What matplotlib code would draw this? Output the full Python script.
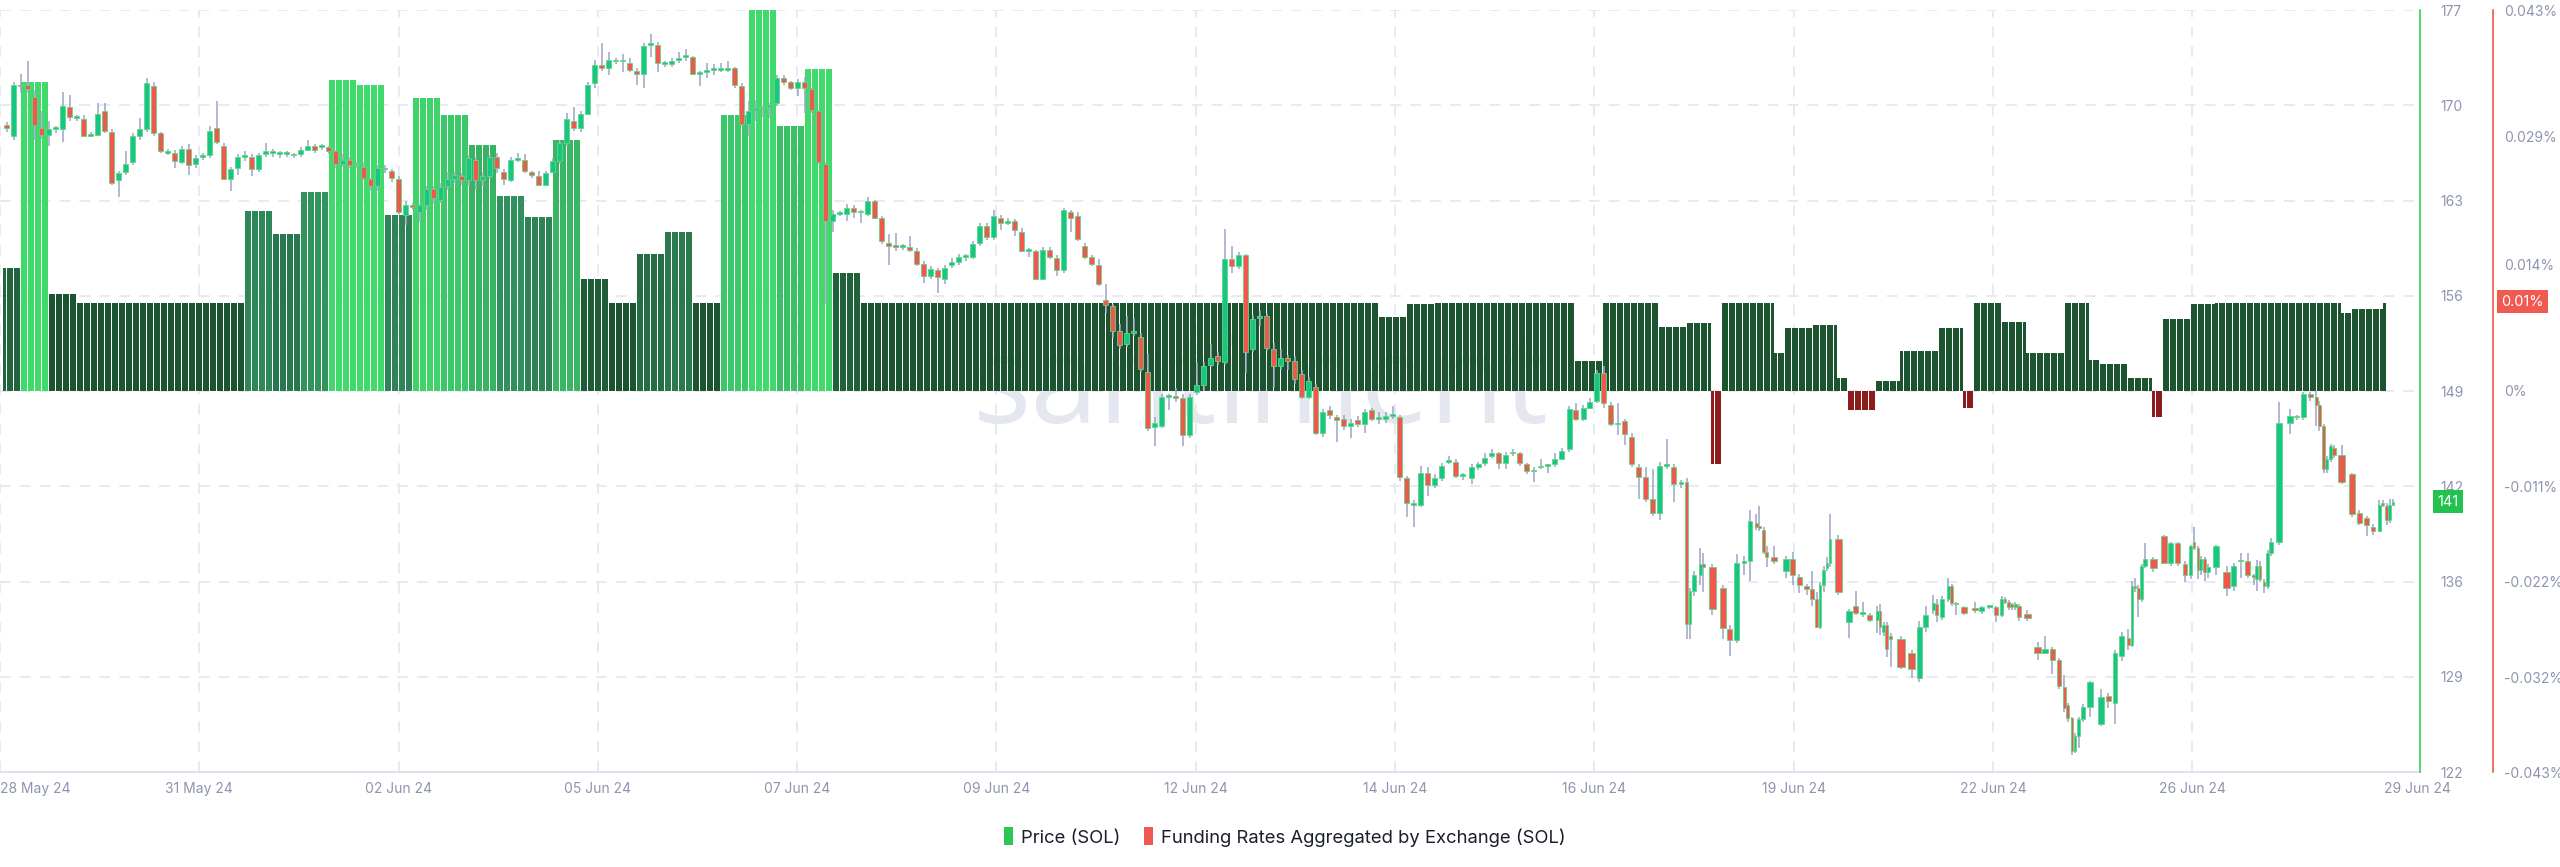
import numpy as np
import matplotlib
matplotlib.use("Agg")
import matplotlib.pyplot as plt
from matplotlib.patches import Patch

plt.rcParams['font.family'] = ['Inter', 'DejaVu Sans']

# ---------------- data ----------------
date_labels = ['28 May 24', '31 May 24', '02 Jun 24', '05 Jun 24', '07 Jun 24', '09 Jun 24',
               '12 Jun 24', '14 Jun 24', '16 Jun 24', '19 Jun 24', '22 Jun 24', '26 Jun 24', '29 Jun 24']

price_tick_labels = ['122', '129', '136', '142', '149', '156', '163', '170', '177']
funding_ticks = [0.043, 0.0287, 0.0143, 0.0, -0.0108, -0.0215, -0.0323, -0.043]
funding_tick_labels = ['0.043%', '0.029%', '0.014%', '0%', '-0.011%', '-0.022%', '-0.032%', '-0.043%']

# funding rate (%) as runs of hourly values
funding_rate = [0.0139, 0.0349, 0.0109, 0.0099, 0.0203, 0.0177, 0.0225, 0.0351, 0.0345, 0.0199,
                0.0331, 0.0311, 0.0278, 0.0220, 0.0196, 0.0283, 0.0126, 0.0099, 0.0155, 0.0179,
                0.0099, 0.0312, 0.0430, 0.0299, 0.0363, 0.0133, 0.0099, 0.0083, 0.0098, 0.0099,
                0.0034, 0.0099, 0.0072, 0.0077, -0.0082, 0.0099, 0.0043, 0.0071, 0.0074, 0.0015,
                -0.0021, 0.0011, 0.0045, 0.0071, -0.0019, 0.0099, 0.0078, 0.0043, 0.0099, 0.0035,
                0.0031, 0.0015, -0.0029, 0.0081, 0.0098, 0.0099, 0.0088, 0.0092, 0.0099]
funding_run_hours = [5, 8, 8, 48, 8, 8, 8, 8, 8, 8,
                     8, 8, 8, 8, 8, 8, 8, 8, 8, 8,
                     8, 8, 8, 8, 8, 8, 148, 8, 8, 40,
                     8, 16, 8, 7, 3, 15, 3, 8, 7, 3,
                     8, 7, 11, 7, 3, 8, 7, 11, 7, 3,
                     8, 7, 3, 8, 7, 36, 3, 9, 1]

# SOL candles (2h regular part, then irregular timestamps in hours)
late_candle_hours = [
    419.6, 421.5, 423.4, 425.4, 427.3, 429.3, 431.3, 433.4, 435.3, 437.4, 439.4, 441.4, 443.4, 445.4,
    447.5, 449.4, 451.5, 453.4, 455.4, 457.4, 459.4, 461.4, 463.4, 465.4, 467.4, 469.4, 471.4, 473.4,
    475.3, 477.4, 479.4, 481.0, 482.0, 483.1, 484.9, 485.8, 488.4, 491.4, 493.3, 495.3, 497.4, 499.1,
    500.9, 501.8, 503.0, 503.9, 505.9, 509.4, 511.3, 513.2, 515.3, 516.8, 518.2, 519.1, 520.2, 521.1,
    522.0, 524.4, 527.5, 529.4, 531.4, 533.4, 535.5, 536.3, 537.3, 538.2, 539.3, 542.3, 545.3, 547.5,
    549.4, 551.5, 552.5,
    553.9, 555.8, 556.8, 558.0, 560.3, 563.4, 565.3, 567.5, 569.4, 571.1, 572.0, 573.0, 573.9, 574.9,
    576.1, 578.4, 581.3, 583.4, 585.5, 587.4, 588.9, 589.9, 591.1, 592.0, 593.0, 594.2, 596.3, 599.4,
    601.5, 603.4, 605.3, 607.2, 608.2, 609.1, 610.1, 611.0, 612.0, 614.4, 617.4, 619.4, 621.3, 623.4,
    625.0, 626.0, 627.1, 627.9, 629.0, 630.1, 632.3, 635.3, 637.4, 639.4, 641.3, 643.0, 643.9, 644.9,
    646.0, 647.0, 648.0, 650.3, 653.4, 655.3, 657.2, 659.2, 660.9, 661.8, 663.0, 663.9, 665.0, 666.0,
    668.2, 671.2, 673.2, 675.3, 677.2, 678.9, 679.9, 681.0, 681.9, 682.9]

candle_open = [
    # 28 May -
    168.7, 167.9, 171.6, 171.6, 170.7, 168.5, 168.0, 168.4, 168.4, 170.0, 169.2, 169.1, 167.9, 168.0,
    169.7, 168.2, 164.7, 165.3, 166.0, 167.9, 168.4, 171.5, 168.1, 166.7, 166.7, 166.0, 167.0, 165.9,
    166.4, 166.5, 168.5, 167.2, 164.8, 165.6, 166.4, 166.4, 165.5, 166.6, 166.7, 166.6, 166.6, 166.6,
    166.6, 166.9, 167.2, 167.1, 167.1, 166.8, 165.9, 166.2, 165.8, 165.7, 164.8, 164.3, 165.6, 165.4,
    164.8, 162.2, 162.9, 162.4, 162.9, 164.1, 163.3, 164.3, 164.8, 165.0, 164.7, 166.2, 164.7,
    # early Jun
    165.0, 166.4, 165.3, 164.7, 166.2, 166.2, 165.3, 165.0, 164.4, 165.3, 166.1, 167.4, 169.0, 168.5,
    169.5, 171.7, 173.0, 172.8, 173.3, 173.3, 173.2, 172.6, 172.4, 174.5, 174.5, 173.1, 173.1, 173.4,
    173.6, 173.6, 172.4, 172.5, 172.7, 172.7, 172.7, 172.8, 171.5, 168.8, 169.8, 169.9, 170.0, 170.3,
    172.1, 171.8, 171.4, 171.8, 171.3, 169.7, 165.9, 161.8, 162.3, 162.3, 162.7, 162.4, 162.3, 163.2,
    162.0, 160.2, 160.0, 159.9, 159.9, 159.6, 158.7, 157.8, 158.2, 157.6, 158.6, 158.8, 159.2, 159.2,
    # mid Jun
    160.2, 161.4, 160.6, 162.0, 161.6, 161.8, 161.0, 159.6, 159.6, 157.6, 159.7, 159.1, 158.2, 162.4,
    162.1, 160.0, 159.2, 158.6, 156.1, 155.6, 153.8, 152.9, 153.7, 153.4, 150.9, 146.9, 147.0, 149.1,
    149.1, 149.0, 146.3, 149.4, 149.9, 151.4, 152.0, 151.6, 159.0, 158.5, 159.3, 152.5, 154.8, 154.9,
    152.5, 151.3, 151.9, 151.7, 150.7, 149.1, 149.8, 146.5, 148.1, 147.6, 147.5, 147.0, 147.4, 147.1,
    148.1, 147.5, 147.5, 147.7, 147.6, 143.2, 141.3, 141.3, 143.6, 142.7, 143.2, 144.4, 144.4, 143.4,
    # late Jun (irregular)
    143.2, 144.0, 144.3, 144.8, 145.0, 144.3, 145.0, 145.0, 144.2, 143.7, 144.0, 144.1, 144.2, 144.6,
    145.3, 148.1, 147.5, 148.3, 148.8, 150.8, 148.5, 147.1, 147.3, 146.2, 144.0, 143.3, 141.7, 140.7,
    144.1, 144.0, 142.8, 142.9, 132.7, 135.1, 136.2, 137.0, 136.8, 135.3, 132.3, 131.5, 137.1, 137.2,
    140.0, 139.7, 139.5, 137.9, 137.5, 136.5, 137.4, 136.1, 135.4, 135.2, 134.5, 132.5, 135.5, 136.7,
    137.1, 138.8, 132.8, 134.0, 133.4, 133.3, 133.0, 133.6, 132.1, 132.6, 131.8, 131.6, 130.6, 128.8,
    132.5, 133.7, 134.1,
    133.2, 134.5, 135.4, 134.2, 133.9, 133.8, 133.6, 133.9, 133.9, 133.3, 134.5, 134.3, 134.1, 133.9,
    134.0, 133.4, 131.0, 130.6, 130.9, 130.1, 128.1, 126.8, 125.9, 123.5, 124.6, 125.8, 126.7, 125.5,
    127.5, 127.0, 130.4, 131.7, 131.2, 135.4, 135.3, 134.5, 136.9, 137.4, 139.0, 137.1, 138.5, 137.0,
    136.2, 138.6, 138.2, 136.6, 137.4, 136.4, 136.8, 136.4, 135.4, 137.2, 137.2, 136.2, 135.9, 136.9,
    135.7, 135.4, 137.8, 138.6, 147.2, 147.7, 147.6, 149.3, 149.1, 148.5, 147.0, 143.9, 144.6, 145.4,
    144.9, 143.5, 140.7, 140.3, 139.7, 139.4, 141.4, 141.2, 140.2, 141.3]

candle_high = [
    168.9, 171.8, 172.4, 173.3, 171.2, 169.7, 169.0, 168.6, 171.1, 170.9, 169.4, 169.4, 168.2, 170.3,
    170.3, 168.4, 165.4, 166.8, 168.1, 169.2, 172.1, 171.8, 168.2, 167.0, 166.9, 167.2, 167.3, 166.5,
    166.7, 168.6, 170.4, 167.4, 165.7, 166.6, 166.8, 166.6, 166.7, 167.4, 167.0, 166.8, 166.8, 166.7,
    167.1, 167.6, 167.3, 167.3, 167.2, 166.9, 166.6, 166.4, 166.0, 166.0, 164.9, 165.8, 165.8, 165.5,
    165.0, 163.2, 163.1, 163.0, 164.3, 164.3, 164.5, 165.3, 165.4, 165.2, 166.5, 166.4, 165.3,
    166.5, 166.7, 165.5, 166.4, 166.7, 166.6, 165.4, 165.4, 165.4, 166.3, 167.6, 169.6, 170.0, 169.7,
    171.8, 173.4, 174.6, 174.0, 173.5, 173.8, 173.5, 172.8, 174.6, 175.3, 174.7, 173.3, 173.5, 174.0,
    174.2, 173.7, 172.6, 173.2, 173.1, 173.2, 173.3, 172.9, 171.7, 170.4, 170.5, 170.1, 170.3, 172.3,
    172.3, 171.9, 172.0, 172.2, 171.4, 169.8, 166.0, 162.6, 162.5, 163.0, 162.9, 162.6, 163.5, 163.3,
    162.1, 160.8, 160.9, 160.1, 160.7, 159.8, 158.9, 158.5, 158.4, 158.6, 159.1, 159.4, 159.4, 160.3,
    161.6, 161.6, 162.6, 162.2, 162.0, 161.9, 161.3, 159.8, 159.7, 159.9, 159.9, 159.3, 162.7, 162.6,
    162.4, 160.2, 159.3, 159.0, 157.2, 155.8, 154.3, 154.9, 154.8, 153.7, 152.2, 147.6, 149.3, 149.3,
    149.7, 149.3, 149.3, 151.5, 151.6, 152.9, 152.3, 161.2, 160.0, 159.5, 159.4, 155.0, 155.3, 155.1,
    153.0, 152.5, 152.1, 152.0, 151.0, 150.5, 150.0, 148.2, 148.4, 147.8, 147.8, 147.5, 147.7, 148.2,
    148.3, 148.0, 148.0, 148.4, 147.8, 143.4, 141.6, 144.1, 144.0, 143.5, 144.3, 144.8, 144.6, 143.6,
    144.2, 144.4, 145.0, 145.3, 145.1, 145.1, 145.3, 145.1, 144.3, 144.0, 144.6, 144.2, 145.0, 145.4,
    148.4, 148.6, 148.5, 149.0, 151.0, 151.3, 148.7, 148.6, 147.5, 146.5, 144.2, 144.0, 143.9, 144.4,
    146.0, 144.2, 143.1, 143.2, 135.3, 136.5, 138.2, 137.8, 137.0, 135.5, 132.6, 137.7, 137.6, 140.9,
    140.6, 141.2, 139.7, 138.3, 138.3, 137.6, 137.9, 136.3, 135.6, 136.5, 135.0, 135.7, 136.9, 137.5,
    140.6, 139.1, 133.8, 135.1, 134.3, 133.5, 134.0, 134.1, 132.8, 132.8, 132.0, 131.8, 130.8, 132.9,
    134.0, 134.8, 134.5,
    134.7, 136.0, 135.6, 134.3, 134.0, 134.3, 134.0, 134.0, 134.0, 134.7, 134.6, 134.4, 134.2, 134.3,
    134.1, 133.7, 131.4, 131.8, 131.0, 130.2, 129.0, 127.0, 126.0, 124.8, 126.0, 126.9, 128.6, 128.0,
    127.7, 130.8, 132.1, 132.3, 135.8, 136.0, 135.5, 137.0, 138.5, 137.5, 139.1, 138.6, 138.6, 137.2,
    138.4, 139.7, 138.3, 137.6, 137.5, 137.0, 138.4, 136.9, 137.1, 137.8, 137.8, 136.3, 137.3, 137.2,
    135.9, 138.0, 138.9, 148.7, 148.2, 147.8, 149.4, 149.4, 149.5, 148.8, 147.1, 144.8, 145.7, 145.6,
    145.6, 143.6, 140.9, 140.5, 139.9, 141.6, 141.6, 141.4, 141.7, 141.7]

candle_low = [
    168.2, 167.6, 171.0, 171.0, 167.6, 167.7, 167.2, 168.1, 167.5, 169.0, 169.0, 167.8, 167.8, 167.9,
    168.1, 164.4, 163.5, 165.1, 165.8, 167.6, 168.2, 167.9, 166.7, 166.5, 165.6, 165.9, 165.1, 165.6,
    166.2, 166.3, 167.3, 164.7, 163.9, 165.1, 166.1, 165.0, 165.3, 166.4, 166.4, 166.3, 166.4, 166.3,
    166.4, 166.8, 166.7, 166.9, 166.6, 165.6, 165.7, 165.6, 165.6, 164.7, 163.9, 163.9, 165.2, 164.6,
    162.3, 161.5, 162.6, 161.7, 162.6, 163.0, 163.1, 164.0, 164.5, 164.4, 164.3, 164.0, 164.3,
    164.8, 165.2, 164.4, 164.6, 166.0, 165.2, 164.9, 164.3, 164.3, 165.2, 165.9, 167.2, 168.3, 168.2,
    169.4, 171.4, 172.6, 172.3, 173.1, 172.5, 172.5, 171.6, 171.4, 173.6, 172.5, 172.9, 172.9, 173.2,
    173.3, 172.3, 171.5, 172.1, 172.3, 172.5, 172.5, 171.4, 168.6, 167.9, 169.0, 169.3, 169.2, 170.1,
    171.6, 171.2, 170.8, 169.6, 169.6, 165.9, 155.8, 161.0, 162.1, 161.8, 162.0, 161.6, 162.1, 161.9,
    160.1, 158.6, 159.6, 159.7, 159.5, 158.5, 157.3, 157.6, 156.6, 157.2, 158.4, 158.6, 158.9, 159.0,
    160.0, 160.4, 160.4, 161.1, 161.5, 160.7, 159.5, 159.2, 157.5, 157.5, 159.0, 157.8, 158.0, 161.0,
    160.3, 159.0, 158.5, 157.1, 155.1, 153.3, 152.5, 152.7, 153.5, 150.9, 146.6, 145.5, 146.8, 148.1,
    148.7, 145.5, 146.1, 149.2, 149.5, 151.2, 151.4, 151.4, 158.0, 158.3, 150.8, 152.3, 154.2, 152.4,
    149.8, 151.0, 151.0, 150.0, 148.9, 148.9, 146.3, 146.2, 147.5, 145.8, 146.7, 146.1, 146.9, 146.5,
    147.3, 147.1, 147.2, 147.5, 143.0, 140.4, 139.7, 141.1, 141.9, 142.5, 143.0, 144.2, 143.2, 143.1,
    142.8, 143.8, 144.1, 144.7, 143.9, 143.9, 144.8, 144.1, 143.5, 142.9, 143.9, 143.6, 144.0, 144.5,
    145.1, 147.3, 147.3, 148.2, 148.6, 148.3, 147.0, 146.3, 145.6, 144.0, 141.7, 141.5, 140.5, 140.2,
    143.9, 141.5, 142.5, 131.6, 131.6, 134.7, 135.5, 135.0, 133.3, 131.6, 130.4, 131.3, 136.2, 135.8,
    139.5, 139.4, 137.7, 136.8, 137.0, 136.0, 135.5, 134.9, 134.8, 134.0, 132.4, 132.3, 135.0, 136.5,
    136.8, 134.8, 131.7, 133.3, 133.2, 132.8, 132.0, 131.9, 131.8, 130.3, 129.6, 129.4, 128.8, 128.5,
    132.1, 133.4, 132.8,
    133.0, 134.3, 134.0, 133.3, 133.3, 133.5, 133.4, 133.8, 132.8, 133.2, 134.1, 133.7, 133.7, 133.7,
    132.9, 132.9, 130.1, 130.5, 129.1, 128.0, 126.3, 125.6, 123.2, 123.4, 123.7, 125.6, 126.0, 125.3,
    126.6, 125.5, 130.0, 130.8, 131.0, 135.0, 133.2, 134.3, 136.7, 136.4, 137.0, 136.9, 136.9, 135.7,
    135.9, 138.0, 135.9, 136.2, 135.8, 136.0, 136.2, 134.7, 135.1, 136.0, 136.0, 135.5, 135.1, 135.7,
    134.9, 135.2, 137.6, 138.4, 146.4, 147.4, 147.4, 148.8, 147.0, 146.6, 143.6, 143.6, 144.4, 144.7,
    142.8, 140.4, 139.8, 139.0, 139.1, 139.3, 141.1, 139.8, 140.0, 141.2]

candle_close = [
    168.5, 171.6, 171.5, 171.3, 168.7, 168.0, 168.4, 168.4, 170.1, 169.3, 169.2, 167.9, 168.0, 169.5,
    168.3, 164.5, 165.2, 165.9, 167.9, 168.4, 171.7, 168.1, 166.8, 166.7, 166.1, 167.0, 165.8, 166.3,
    166.5, 168.3, 167.5, 164.8, 165.5, 166.4, 166.5, 165.5, 166.5, 166.8, 166.7, 166.6, 166.6, 166.5,
    166.9, 167.2, 166.9, 167.1, 166.8, 165.9, 166.2, 165.8, 165.8, 164.9, 164.3, 165.6, 165.5, 164.9,
    162.4, 162.9, 162.8, 162.9, 164.1, 163.4, 164.2, 164.8, 165.1, 164.7, 166.3, 164.7, 165.0,
    166.4, 165.6, 164.8, 166.2, 166.2, 165.4, 165.1, 164.4, 165.2, 166.1, 167.4, 169.1, 168.5, 169.5,
    171.6, 173.0, 172.8, 173.4, 173.3, 173.3, 172.7, 172.4, 174.4, 174.5, 173.2, 173.1, 173.3, 173.5,
    173.6, 172.4, 172.4, 172.7, 172.7, 172.7, 172.8, 171.6, 168.8, 169.7, 169.8, 169.9, 170.1, 172.1,
    171.8, 171.4, 171.8, 171.4, 169.8, 166.0, 161.8, 162.3, 162.3, 162.7, 162.4, 162.4, 163.2, 162.0,
    160.3, 160.0, 159.9, 159.9, 159.7, 158.7, 157.8, 158.3, 157.7, 158.4, 158.8, 159.2, 159.2, 160.1,
    161.4, 160.6, 162.1, 161.6, 161.8, 161.1, 159.6, 159.6, 157.6, 159.7, 159.2, 158.2, 162.6, 162.0,
    160.5, 159.2, 158.7, 157.2, 155.7, 153.8, 152.8, 153.7, 153.7, 151.1, 146.8, 147.2, 149.1, 149.1,
    149.0, 146.3, 149.1, 149.9, 151.3, 151.9, 151.7, 159.0, 158.5, 159.3, 152.3, 154.7, 154.8, 152.6,
    151.3, 151.9, 151.7, 150.4, 149.1, 150.2, 146.5, 148.0, 147.8, 147.4, 147.0, 147.2, 147.1, 148.0,
    147.5, 147.5, 147.7, 147.7, 143.3, 141.4, 141.3, 143.6, 142.7, 143.2, 144.1, 144.4, 143.4, 143.4,
    144.0, 144.2, 144.7, 145.0, 144.3, 144.9, 145.0, 144.3, 143.7, 143.8, 144.1, 144.1, 144.6, 145.2,
    148.2, 147.5, 148.3, 148.7, 150.8, 148.6, 147.1, 147.1, 146.4, 144.2, 143.3, 141.7, 140.7, 144.1,
    144.1, 142.8, 142.9, 132.7, 135.1, 136.2, 137.0, 136.8, 133.8, 132.4, 131.5, 137.1, 137.1, 140.1,
    139.7, 139.6, 137.9, 137.5, 137.2, 137.4, 136.2, 135.5, 135.2, 134.5, 132.5, 135.5, 136.6, 137.1,
    138.8, 135.0, 133.6, 133.5, 133.4, 133.0, 133.6, 132.5, 132.6, 130.9, 131.6, 129.6, 129.4, 132.5,
    133.3, 134.2, 133.3,
    134.5, 135.4, 134.2, 134.1, 133.5, 133.7, 133.9, 133.9, 133.3, 134.5, 134.3, 133.9, 133.9, 134.1,
    133.2, 133.1, 130.6, 130.9, 130.1, 128.2, 126.6, 125.9, 123.5, 124.6, 125.8, 126.7, 128.5, 127.4,
    127.1, 130.6, 131.8, 131.2, 135.4, 135.3, 134.5, 136.9, 137.4, 136.7, 137.1, 138.5, 137.1, 136.2,
    138.3, 138.2, 136.6, 137.4, 136.4, 136.8, 138.3, 135.3, 136.9, 137.2, 136.2, 136.1, 136.9, 135.9,
    135.4, 137.8, 138.6, 147.2, 147.7, 147.6, 149.3, 149.1, 148.5, 147.0, 143.9, 144.6, 145.5, 144.9,
    142.9, 140.6, 140.0, 139.8, 139.4, 141.3, 141.3, 140.2, 141.3, 141.5]

# ---------------- arrays ----------------
o = np.array(candle_open)
h = np.array(candle_high)
l = np.array(candle_low)
c = np.array(candle_close)
n_regular = len(o) - len(late_candle_hours)
t = np.concatenate([np.arange(n_regular) * 2 + 1.0, np.array(late_candle_hours)])
assert len(o) == len(h) == len(l) == len(c) == len(t)

gaps = np.diff(t)
left = np.concatenate([[gaps[0]], gaps])
right = np.concatenate([gaps, [gaps[-1]]])
body_w = np.minimum(0.72 * (left + right) / 2, 0.9 * np.minimum(left, right))

fund = np.repeat(funding_rate, funding_run_hours)
fund_t = np.arange(len(fund)) + 0.5

# colors
up_col, down_col = '#16c683', '#f2574d'
dark = np.array([0.11, 0.33, 0.19])
mid = np.array([0.19, 0.55, 0.36])
light = np.array([0.25, 0.85, 0.42])
def fund_color(v):
    if v < 0:
        return '#8c1c1c'
    f = np.clip((v - 0.011) / (0.034 - 0.011), 0, 1)
    if f < 0.45:
        col = dark + (mid - dark) * f / 0.45
    else:
        col = mid + (light - mid) * (f - 0.45) / 0.55
    return tuple(col)
fund_colors = [fund_color(v) for v in fund]

# ---------------- figure ----------------
W, H = 2560, 867
fig = plt.figure(figsize=(W / 100, H / 100), dpi=100)
fig.patch.set_facecolor('white')
ax = fig.add_axes([0, 1 - 772 / H, 2420 / W, 762 / H])
ax.set_xlim(-3 / 3.5, (2420 - 3) / 3.5)
ax.set_ylim(-0.043, 0.043)

grid_col = '#e6e8f2'
for k in range(1, 9):
    ax.plot([0, 1], [k / 8, k / 8], transform=ax.transAxes, color=grid_col,
            lw=1.3, ls=(0, (6, 5)), zorder=0)
grid_x = [(199.3 * k - 3) / 3.5 for k in range(12)]
for gx in grid_x:
    ax.axvline(gx, color=grid_col, lw=1.3, ls=(0, (6, 5)), zorder=0)

ax.text(1261 / 2420, (772 - 423) / 762, 'santiment', transform=ax.transAxes,
        fontsize=88, color='#e5e7f0', ha='center', va='baseline', zorder=0.5,
        family=['Open Sans', 'DejaVu Sans'])

ax.bar(fund_t, fund, width=0.76, color=fund_colors, linewidth=0, zorder=2)

ticks_x = grid_x + [(2417 - 3) / 3.5]
ax.set_xticks(ticks_x)
ax.set_xticklabels(date_labels)
ax.tick_params(axis='x', length=0, pad=7, labelsize=10, labelcolor='#8e94b0')
ax.get_xticklabels()[0].set_ha('left')

# price axis (inner right, green)
axp = ax.twinx()
axp.set_ylim(122, 177)
for s in ['left', 'top', 'bottom']:
    axp.spines[s].set_visible(False)
axp.spines['right'].set_color('#2fd05a')
axp.spines['right'].set_linewidth(1.2)
axp.set_yticks(np.linspace(122, 177, 9))
axp.set_yticklabels(price_tick_labels)
axp.tick_params(axis='y', length=0, pad=15, labelsize=10, labelcolor='#8e94b0')

# funding axis (outer right, red) - set after twinx, which moves ticks to the left
for s in ['left', 'top']:
    ax.spines[s].set_visible(False)
ax.spines['bottom'].set_color('#dfe2ee')
ax.spines['bottom'].set_linewidth(1.5)
ax.spines['right'].set_visible(True)
ax.spines['right'].set_position(('axes', 2493 / 2420))
ax.spines['right'].set_color('#f05a50')
ax.spines['right'].set_linewidth(1.2)
ax.yaxis.tick_right()
ax.yaxis.set_label_position('right')
ax.set_yticks(funding_ticks)
ax.set_yticklabels(funding_tick_labels)
ax.tick_params(axis='y', length=0, pad=8, labelsize=10, labelcolor='#8e94b0',
               left=False, labelleft=False, right=True, labelright=True)

axp.vlines(t, l, h, color='#9ca3c6', lw=1.1, zorder=3)
body_col = [up_col if cc >= oo else down_col for oo, cc in zip(o, c)]
body_h = np.maximum(np.abs(c - o), 0.12)
axp.bar(t, body_h, bottom=np.minimum(o, c), width=body_w, color=body_col,
        edgecolor='#66d585', linewidth=0.6, zorder=4)

# current value labels
axp.text(2437 / 2420, c[-1], f'{int(c[-1])}', transform=axp.get_yaxis_transform(),
         ha='left', va='center', color='white', fontsize=10.5,
         bbox=dict(boxstyle='square,pad=0.3', fc='#22c24e', ec='none'), clip_on=False)
ax.text(2501 / 2420, 0.0101, '0.01%', transform=ax.get_yaxis_transform(),
        ha='left', va='center', color='white', fontsize=10.5,
        bbox=dict(boxstyle='square,pad=0.3', fc='#f05a50', ec='none'), clip_on=False, zorder=6)

handles = [Patch(facecolor='#2cc653', edgecolor='none'), Patch(facecolor='#f05a55', edgecolor='none')]
fig.legend(handles, ['Price (SOL)', 'Funding Rates Aggregated by Exchange (SOL)'],
           loc='center', bbox_to_anchor=(1285 / W, 1 - 837 / H), ncol=2, frameon=False,
           fontsize=13.3, handlelength=0.45, handleheight=1.1, handletextpad=0.45,
           columnspacing=1.3, labelcolor='#1b1e2b')

fig.savefig('out.png', dpi=100, facecolor='white')
